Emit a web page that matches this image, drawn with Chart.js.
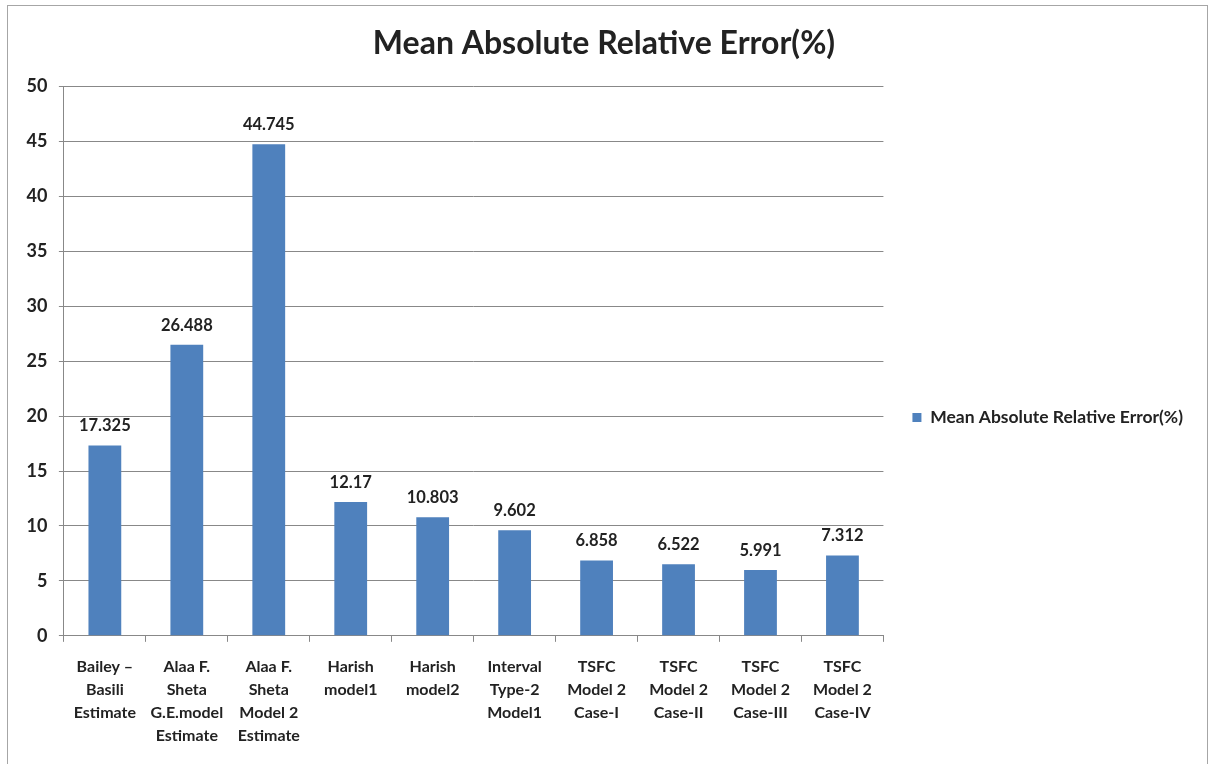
<!DOCTYPE html>
<html>
<head>
<meta charset="utf-8">
<script src="https://cdn.jsdelivr.net/npm/chart.js@4"></script>
<style>
  html, body { margin: 0; padding: 0; background: #fff; }
  #box {
    position: absolute; left: 7px; top: 5px;
    width: 1199px; height: 760px;
    border: 1px solid #a6a6a6; border-bottom: none;
  }
</style>
</head>
<body>
<div id="box"><canvas id="chart" width="1199" height="760"></canvas></div>
<script>
// categories (multi-line labels as shown under the bars)
const categorias = [
  ["Bailey –", "Basili", "Estimate"],
  ["Alaa F.", "Sheta", "G.E.model", "Estimate"],
  ["Alaa F.", "Sheta", "Model 2", "Estimate"],
  ["Harish", "model1"],
  ["Harish", "model2"],
  ["Interval", "Type-2", "Model1"],
  ["TSFC", "Model 2", "Case-I"],
  ["TSFC", "Model 2", "Case-II"],
  ["TSFC", "Model 2", "Case-III"],
  ["TSFC", "Model 2", "Case-IV"]
];
const serieNome = "Mean Absolute Relative Error(%)";
const valores = [17.325, 26.488, 44.745, 12.17, 10.803, 9.602, 6.858, 6.522, 5.991, 7.312];
const rotulos = ["17.325", "26.488", "44.745", "12.17", "10.803", "9.602", "6.858", "6.522", "5.991", "7.312"];

const FONTE = "Lato, 'Open Sans', sans-serif";
const COR_TEXTO = "#222";

// valores acima das barras
const rotulosBarras = {
  id: "rotulosBarras",
  afterDatasetsDraw(chart) {
    const ctx = chart.ctx;
    const meta = chart.getDatasetMeta(0);
    ctx.save();
    ctx.font = "bold 16.5px " + FONTE;
    ctx.fillStyle = COR_TEXTO;
    ctx.textAlign = "center";
    ctx.textBaseline = "alphabetic";
    meta.data.forEach((bar, i) => {
      ctx.fillText(rotulos[i], bar.x, bar.y - 14);
    });
    ctx.restore();
  }
};

new Chart(document.getElementById("chart"), {
  type: "bar",
  data: {
    labels: categorias,
    datasets: [
      {
        label: serieNome,
        data: valores,
        backgroundColor: "#4f81bd",
        categoryPercentage: 1,
        barPercentage: 0.4
      }
    ]
  },
  options: {
    responsive: false,
    animation: false,
    layout: { padding: { left: 7, right: 14, top: 0, bottom: 6 } },
    plugins: {
      title: {
        display: true,
        text: serieNome,
        color: COR_TEXTO,
        font: { family: FONTE, size: 32, weight: "bold" },
        padding: { top: 18, bottom: 24 }
      },
      legend: {
        position: "right",
        maxWidth: 400,
        title: { display: true, text: " ", padding: 26, font: { size: 14 } },
        labels: {
          boxWidth: 9,
          boxHeight: 9,
          color: COR_TEXTO,
          font: { family: FONTE, size: 17.5, weight: "bold" },
          padding: 29
        }
      },
      tooltip: { enabled: false }
    },
    scales: {
      x: {
        grid: {
          offset: true,
          drawOnChartArea: false,
          drawTicks: true,
          tickLength: 6,
          color: "#888"
        },
        border: { color: "#888" },
        ticks: {
          color: COR_TEXTO,
          font: { family: FONTE, size: 16, weight: "bold", lineHeight: 1.44 },
          maxRotation: 0,
          autoSkip: false,
          padding: 13
        }
      },
      y: {
        min: 0,
        max: 50,
        grid: { color: "#888", tickLength: 5 },
        border: { color: "#888" },
        ticks: {
          stepSize: 5,
          color: COR_TEXTO,
          font: { family: FONTE, size: 18, weight: "bold" },
          padding: 11.5
        }
      }
    }
  },
  plugins: [rotulosBarras]
});
</script>
</body>
</html>
